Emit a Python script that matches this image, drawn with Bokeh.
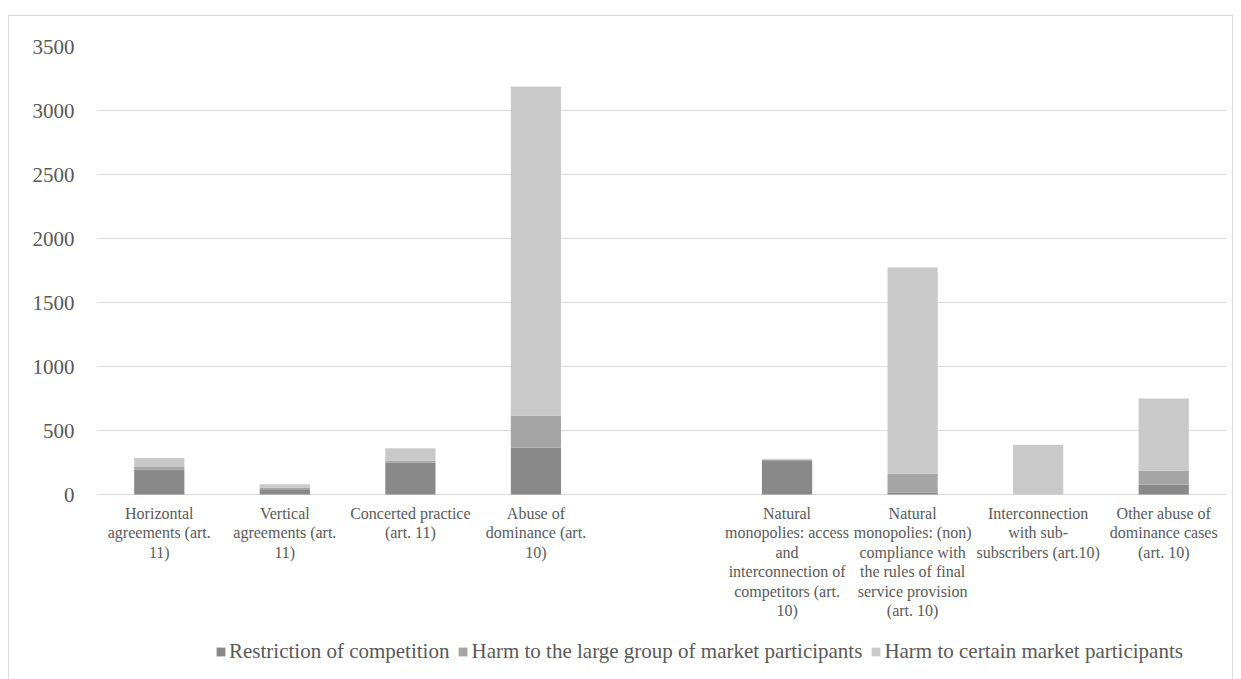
from bokeh.plotting import figure
from bokeh.models import ColumnDataSource, Legend, LegendItem, FixedTicker
from bokeh.core.properties import value
from bokeh.embed import file_html
from bokeh.resources import INLINE

categories = [
    "Horizontal\nagreements (art.\n11)",
    "Vertical\nagreements (art.\n11)",
    "Concerted practice\n(art. 11)",
    "Abuse of\ndominance (art.\n10)",
    " ",
    "Natural\nmonopolies: access\nand\ninterconnection of\ncompetitors (art.\n10)",
    "Natural\nmonopolies: (non)\ncompliance with\nthe rules of final\nservice provision\n(art. 10)",
    "Interconnection\nwith sub-\nsubscribers (art.10)",
    "Other abuse of\ndominance cases\n(art. 10)",
]
restriction = [196, 42, 251, 366, 0, 262, 14, 0, 78]
harm_large = [18, 11, 14, 252, 0, 10, 150, 0, 108]
harm_certain = [71, 28, 96, 2570, 0, 8, 1609, 388, 564]
series_names = ["Restriction of competition",
                "Harm to the large group of market participants",
                "Harm to certain market participants"]
y_ticks = [0, 500, 1000, 1500, 2000, 2500, 3000, 3500]

colors = ["#898989", "#a5a5a5", "#c9c9c9"]
FONT = "Liberation Serif"
TXT = "#595959"

src = ColumnDataSource(dict(cat=categories, label=categories,
                            r=restriction, l=harm_large, c=harm_certain))

# y-range extends below zero so the category labels and legend sit inside the frame
p = figure(x_range=categories, y_range=(-1453, 3500), width=1225, height=664,
           output_backend="svg", toolbar_location=None, x_axis_location=None,
           min_border_left=87, min_border_right=8, min_border_top=30, min_border_bottom=0)
p.margin = (15, 8, 0, 8)
p.styles = {"border-left": "1px solid #d9d9d9", "border-top": "1px solid #d9d9d9",
            "border-right": "1px solid #d9d9d9"}
p.x_range.range_padding = 0

renderers = p.vbar_stack(["r", "l", "c"], x="cat", width=0.4, source=src,
                         color=colors, line_color=None)

p.text(x="cat", y=0, text="label", source=src, text_align="center", text_baseline="top",
       y_offset=10, text_font=value(FONT), text_font_size="16px", text_color=TXT,
       text_line_height=1.15)

p.outline_line_color = None
p.xgrid.grid_line_color = None
p.ygrid.grid_line_color = "#d9d9d9"
p.ygrid.grid_line_width = 1

p.yaxis.ticker = FixedTicker(ticks=y_ticks)
p.yaxis.axis_line_color = None
p.yaxis.major_tick_line_color = None
p.yaxis.major_tick_out = 0
p.yaxis.major_tick_in = 0
p.yaxis.minor_tick_line_color = None
p.yaxis.major_label_text_font = FONT
p.yaxis.major_label_text_font_size = "21px"
p.yaxis.major_label_text_color = TXT
p.yaxis.major_label_standoff = 22

legend = Legend(items=[LegendItem(label=n, renderers=[r]) for n, r in zip(series_names, renderers)],
                orientation="horizontal", location=(119, 16),
                label_text_font=FONT, label_text_font_size="21px", label_text_color=TXT,
                glyph_width=11, glyph_height=11, label_standoff=3, spacing=8,
                padding=0, margin=0, border_line_color=None, background_fill_alpha=0)
p.add_layout(legend, "center")

open("out.html", "w").write(file_html(p, INLINE))
